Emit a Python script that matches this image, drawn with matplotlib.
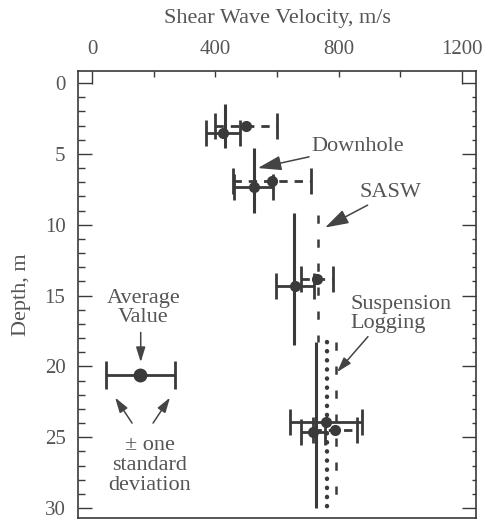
import numpy as np
import matplotlib
matplotlib.use('Agg')
import matplotlib.pyplot as plt

# 剖面数据（深度区间 m，剪切波速 m/s）
downhole_top = [1.5, 4.6, 9.2, 18.3]
downhole_bot = [4.6, 9.2, 18.5, 30.0]
downhole_vs = [431, 525, 655, 725]

sasw_top = [9.3, 18.3]
sasw_bot = [18.3, 29.5]
sasw_vs = [733, 791]

susp_top = [18.3]
susp_bot = [30.0]
susp_vs = [762]

# 各层平均值 ± 标准差
dh_depth = [3.5, 7.35, 14.3, 24.6]
dh_mean = [425, 525, 658, 717]
dh_std = [55, 63, 62, 40]

sa_depth = [3.0, 6.9, 13.8, 24.5]
sa_mean = [500, 584, 730, 788]
sa_std = [100, 126, 52, 71]

su_depth = [23.9]
su_mean = [759]
su_std = [118]

# 图例示意点
ex_depth = [20.6]
ex_mean = [156]
ex_std = [112]

ink = '#3a3a3a'
txt = '#555555'

plt.rcParams['font.family'] = ['Liberation Serif', 'DejaVu Serif']

fig = plt.figure(figsize=(4.97, 5.22), dpi=100)
ax = fig.add_axes([78 / 497, 1 - 518 / 522, (476 - 78) / 497, (518 - 71) / 522])

# 下孔法：实线
for t, b, v in zip(downhole_top, downhole_bot, downhole_vs):
    ax.plot([v, v], [t, b], color=ink, lw=2.2, solid_capstyle='butt')

# SASW：虚线
for t, b, v in zip(sasw_top, sasw_bot, sasw_vs):
    ax.plot([v, v], [t, b], color=ink, lw=1.8, linestyle=(0, (3.3, 6.3)))

# 悬挂式测井：点线
for t, b, v in zip(susp_top, susp_bot, susp_vs):
    ax.plot([v, v], [t, b], color=ink, lw=3.2, linestyle=(0, (0.05, 2.0)),
            dash_capstyle='round')

eb_kw = dict(fmt='o', color=ink, ms=7, elinewidth=2, capsize=9.5, capthick=2)

ax.errorbar(dh_mean, dh_depth, xerr=dh_std, **eb_kw)
e = ax.errorbar(sa_mean, sa_depth, xerr=sa_std, **eb_kw)
e[2][0].set_linestyle((0, (3, 2.5)))
ax.errorbar(su_mean, su_depth, xerr=su_std, **eb_kw)
ax.errorbar(ex_mean, ex_depth, xerr=ex_std, fmt='o', color=ink, ms=9,
            elinewidth=2, capsize=10, capthick=2)

ax.set_xlim(-45.4, 1245.4)
ax.set_ylim(30.7, -0.85)

ax.set_xticks([0, 400, 800, 1200])
ax.set_xticks(np.arange(0, 1201, 200), minor=True)
ax.set_yticks(np.arange(0, 31, 5))
ax.set_yticks(np.arange(0, 31, 1), minor=True)

ax.xaxis.tick_top()
ax.xaxis.set_label_position('top')
ax.tick_params(axis='x', which='both', direction='in', top=True, bottom=False,
               length=4, width=1, color=ink, labelsize=15, labelcolor=txt, pad=9)
ax.tick_params(axis='y', which='major', direction='in', left=True, right=True,
               length=10, width=1, color=ink, labelsize=15, labelcolor=txt, pad=9)
ax.tick_params(axis='y', which='minor', direction='in', left=True, right=True,
               length=5, width=1, color=ink)
for tk in ax.yaxis.get_minor_ticks():
    tk.tick2line.set_markersize(3)
# 0 和 1200 处的长刻度
for tk in (ax.xaxis.get_major_ticks()[0], ax.xaxis.get_major_ticks()[-1]):
    tk.tick2line.set_markersize(9)

for s in ax.spines.values():
    s.set_color(ink)
    s.set_linewidth(1.2)

ax.set_xlabel('Shear Wave Velocity, m/s', fontsize=16, color=txt, labelpad=12)
ax.set_ylabel('Depth, m', fontsize=16, color=txt, labelpad=10)

arrow = dict(arrowstyle='-|>,head_length=0.9,head_width=0.28', color='#444444',
             lw=1.1, shrinkA=0, shrinkB=0)

ax.annotate('Downhole', xy=(538, 6.0), xytext=(713, 4.45), fontsize=16,
            color=txt, va='center', ha='left', arrowprops=arrow)
ax.annotate('SASW', xy=(756, 10.2), xytext=(869, 7.75), fontsize=16,
            color=txt, va='center', ha='left', arrowprops=arrow)
ax.annotate('Suspension\nLogging', xy=(795, 20.4), xytext=(837, 16.3),
            fontsize=16, color=txt, va='center', ha='left', linespacing=1.0)
ax.annotate('', xy=(795, 20.4), xytext=(895, 17.9), arrowprops=arrow)

ax.text(166, 15.9, 'Average\nValue', fontsize=16, color=txt, ha='center',
        va='center', linespacing=1.0)
ax.annotate('', xy=(158, 19.7), xytext=(158, 17.6), arrowprops=arrow)
ax.annotate('', xy=(75, 22.2), xytext=(130, 24.0), arrowprops=arrow)
ax.annotate('', xy=(253, 22.2), xytext=(198, 24.0), arrowprops=arrow)
ax.text(188, 27.0, '\u00b1 one\nstandard\ndeviation', fontsize=16, color=txt,
        ha='center', va='center', linespacing=1.05)

fig.savefig('out.png', dpi=100)
